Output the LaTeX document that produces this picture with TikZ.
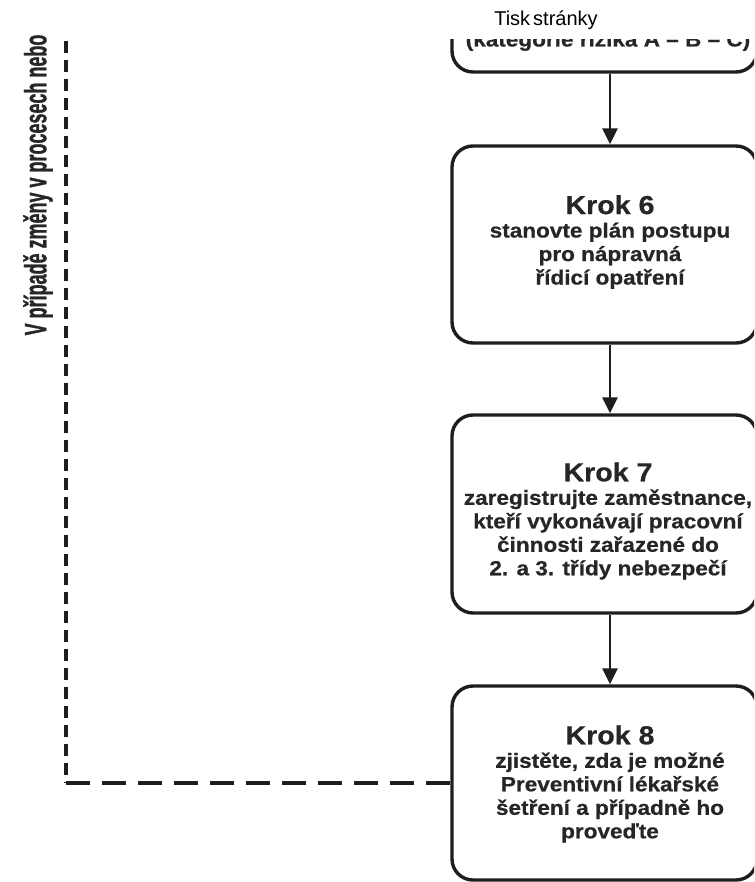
\documentclass[tikz,border=0pt]{standalone}
\usepackage{fontspec}
\setmainfont{Liberation Sans}
\newfontfamily\bx{Liberation Sans}[FakeStretch=1.1,BoldFeatures={FakeBold=0.6}]
\newfontfamily\vt{Liberation Sans}[FakeStretch=0.58,BoldFeatures={FakeBold=0.8}]
\usetikzlibrary{arrows.meta,calc}
\definecolor{ink}{HTML}{1E1E1E}
\definecolor{txt}{HTML}{262626}
\newcommand{\hd}{\fontsize{26}{28}\selectfont}
\begin{document}
\begin{tikzpicture}[x=1pt,y=-1pt,
  box/.style={draw=ink,line width=3.4pt,rounded corners=21pt,minimum width=305pt,inner sep=0pt},
  body/.style={font=\bx\bfseries\fontsize{20.5}{23.5}\selectfont,text=txt,align=center,inner sep=0pt},
  arr/.style={draw=ink,line width=2.6pt,-{Triangle[length=16pt,width=15pt]}},
  dashv/.style={draw=ink,line width=3.2pt,dash pattern=on 12pt off 7pt},
  dashh/.style={draw=ink,line width=3.2pt,dash pattern=on 24pt off 12pt}]
\useasboundingbox (0,0) rectangle (754,882);
\fill[white] (0,0) rectangle (754,882);
\begin{scope}
\clip (0,0) rectangle (754,882);
% header
\node[font=\fontsize{20}{22}\selectfont,anchor=base,inner sep=0pt] (hdr) at (546,26) {Tisk\kern3pt stránky};
% top (cut) box
\begin{scope}
\clip (0,40) rectangle (754,882);
\node[box,minimum height=120pt] (b5) at (604.5,12) {};
\node[body,anchor=base] (t5) at (608,46.5) {(kategorie rizika A – B – C)};
\end{scope}
% boxes
\node[box,minimum height=197pt] (b6) at (604.5,244.5) {};
\node[body] (t6) at (610,242) {{\hd Krok 6}\\stanovte plán postupu\\pro nápravná\\řídicí opatření};
\node[box,minimum height=198pt] (b7) at (604.5,514) {};
\node[body] (t7) at (608,521) {{\hd Krok 7}\\zaregistrujte zaměstnance,\\kteří vykonávají pracovní\\činnosti zařazené do\\2. a 3. třídy nebezpečí};
\node[box,minimum height=194pt] (b8) at (604.5,783) {};
\node[body] (t8) at (610,784) {{\hd Krok 8}\\zjistěte, zda je možné\\Preventivní lékařské\\šetření a případně ho\\proveďte};
% arrows
\draw[arr] ([xshift=5.5pt]b5.south) -- ([xshift=5.5pt]b6.north);
\draw[arr] ([xshift=5.5pt]b6.south) -- ([xshift=5.5pt]b7.north);
\draw[arr] ([xshift=5.5pt]b7.south) -- ([xshift=5.5pt]b8.north);
% dashed feedback
\coordinate (dtop) at (66,41);
\coordinate (dcor) at (66,783);
\draw[dashv] (dtop) -- (dcor);
\draw[dashh] (dcor) -- (b8.west);
% vertical label
\node[rotate=90,font=\vt\bfseries\fontsize{31}{33}\selectfont,text=txt,inner sep=0pt] (vt) at (38,185) {V případě změny v procesech nebo};
\end{scope}
\end{tikzpicture}
\end{document}
